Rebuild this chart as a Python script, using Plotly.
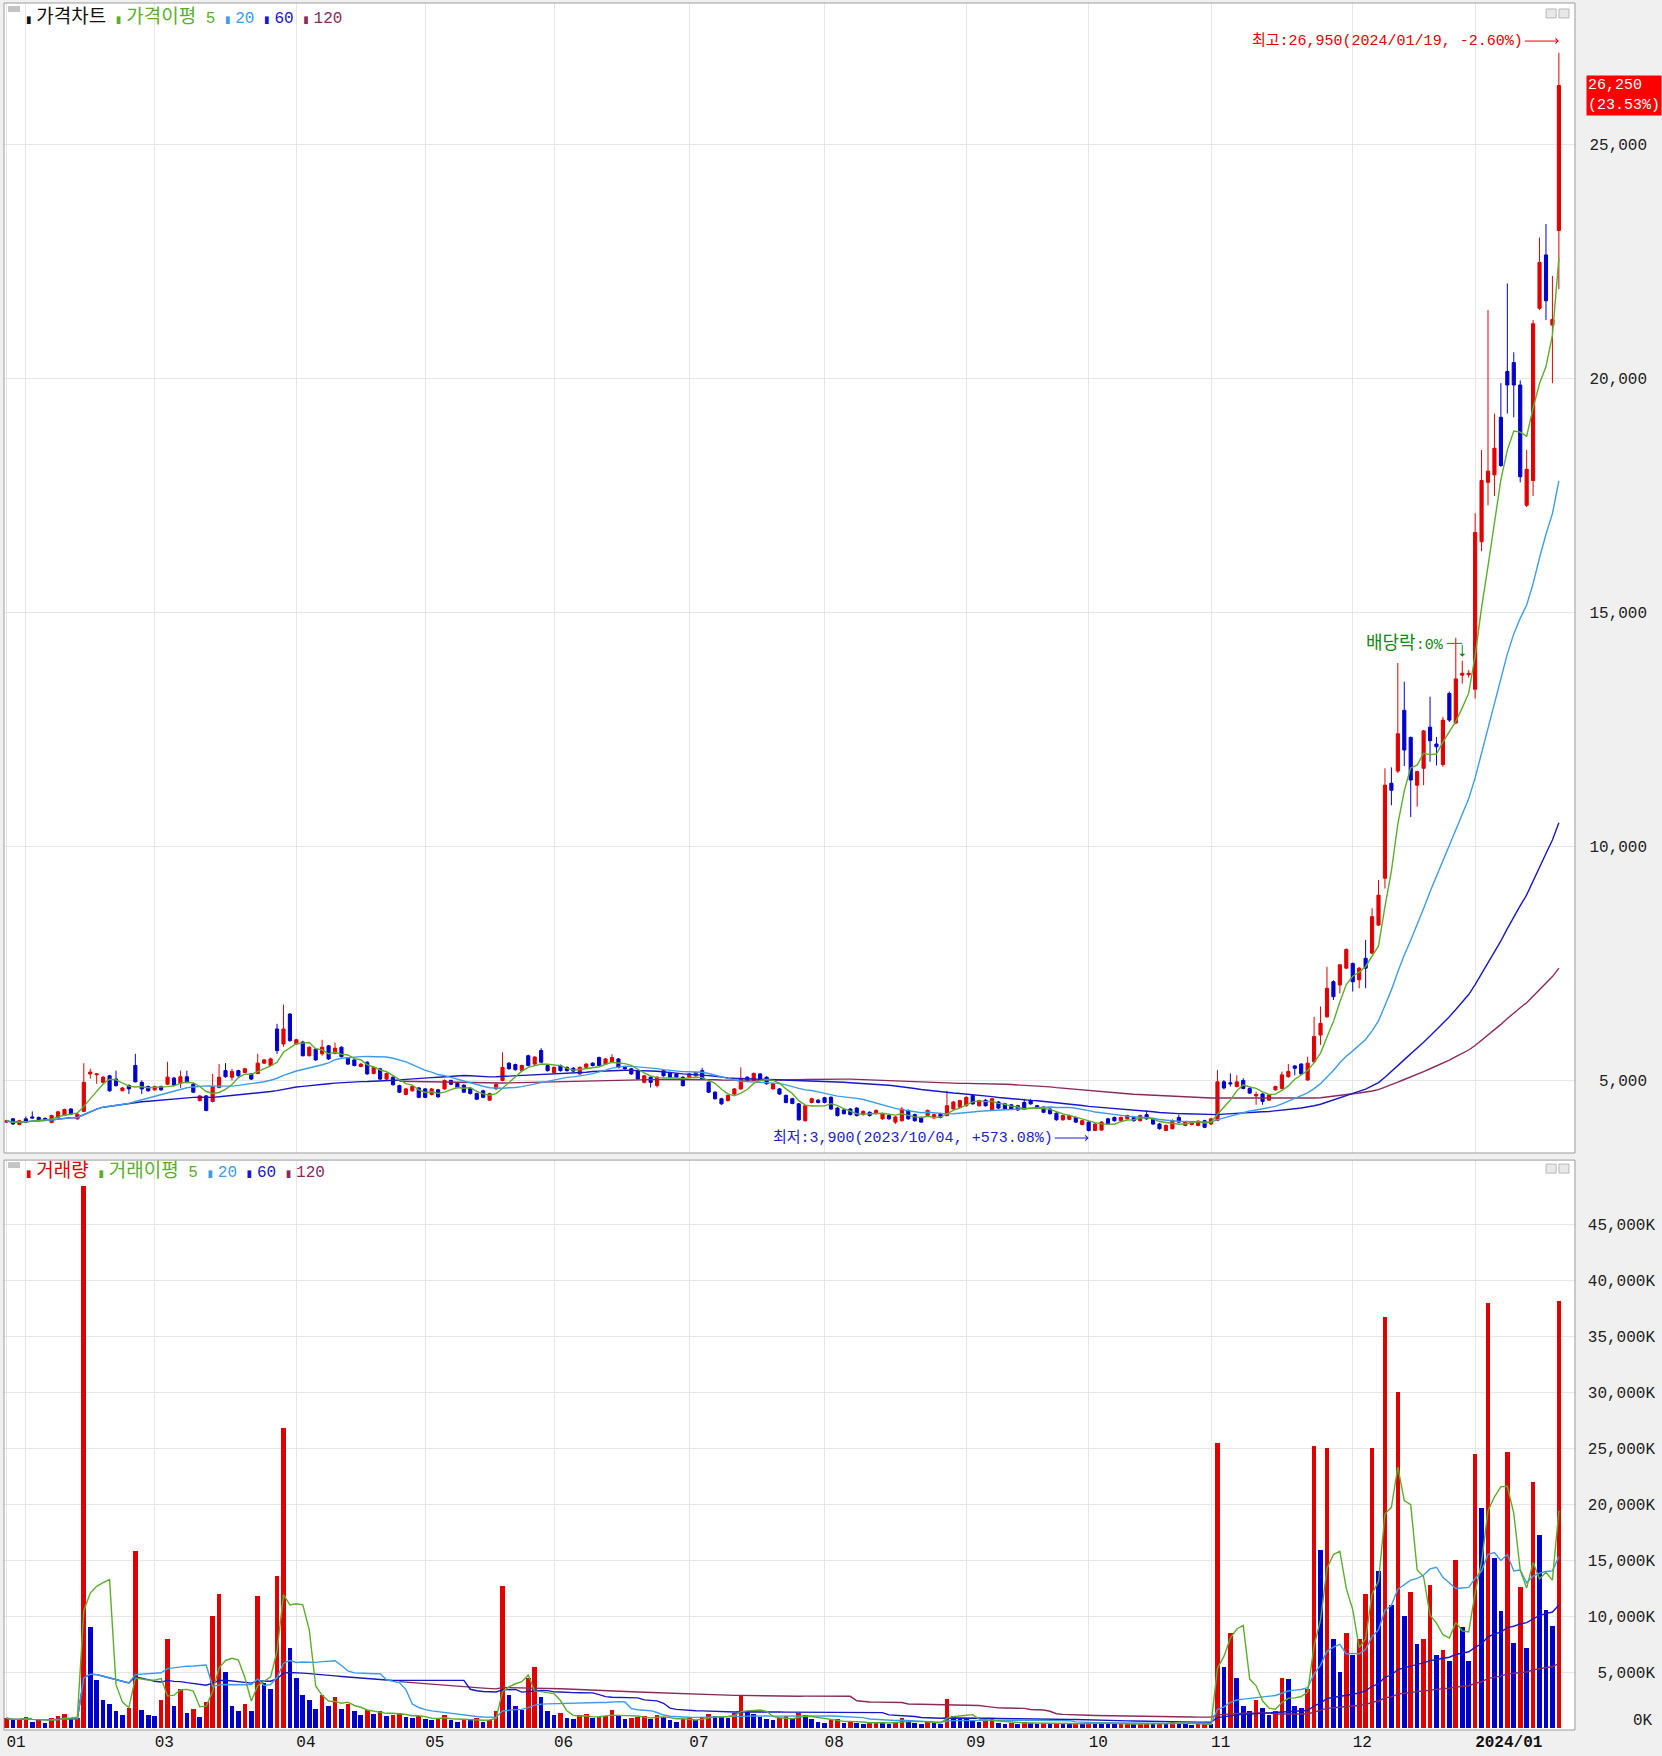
import pandas as pd
import plotly.graph_objects as go

# ---------------- data ----------------
# trading days shown per month: 2023-01 (last 3 days) ... 2024-01 (to 19th)
days_per_month = [3, 20, 22, 20, 20, 21, 21, 22, 19, 19, 22, 19, 14]
month_labels = ["01", "", "03", "04", "05", "06", "07", "08", "09", "10", "11", "12", "<b>2024/01</b>"]

opens = [
    4100, 4170, 4050, 4170, 4210, 4200, 4180, 4090, 4200, 4240,
    4380, 4170, 4330, 5130, 5110, 4950, 5090, 5020, 4770, 4880,
    5310, 4950, 4860, 4790, 4860, 4910, 5040, 4930, 5070, 4910,
    4560, 4660, 4540, 4840, 5200, 5060, 5200, 5160, 5130, 5140,
    5360, 5310, 6090, 5770, 6410, 5770, 5810, 5520, 5660, 5560,
    5730, 5570, 5700, 5470, 5430, 5290, 5380, 5140, 5240, 5020,
    5060, 4880, 4690, 4770, 4830, 4810, 4690, 4790, 4810, 4990,
    4930, 4890, 4820, 4710, 4770, 4570, 4810, 4990, 5360, 5330,
    5200, 5520, 5340, 5630, 5310, 5160, 5310, 5270, 5250, 5130,
    5270, 5360, 5480, 5340, 5380, 5450, 5270, 5240, 5200, 4950,
    5060, 4880, 5200, 5160, 5130, 5060, 5060, 5090, 5200, 4950,
    4740, 4600, 4560, 4700, 4810, 5060, 4990, 5130, 5060, 4810,
    4810, 4670, 4600, 4490, 4130, 4520, 4570, 4620, 4630, 4400,
    4360, 4380, 4400, 4260, 4310, 4280, 4170, 4240, 4100, 4130,
    4350, 4260, 4200, 4240, 4190, 4280, 4240, 4380, 4420, 4450,
    4670, 4450, 4570, 4360, 4530, 4490, 4470, 4450, 4520, 4560,
    4450, 4420, 4380, 4290, 4150, 4160, 4200, 4050, 4100, 3920,
    3930, 4170, 4200, 4130, 4170, 4200, 4130, 4260, 4170, 4060,
    3920, 3960, 4200, 4030, 4050, 4030, 4130, 4060, 4140, 4960,
    4940, 4860, 4990, 4820, 4660, 4700, 4570, 4790, 4820, 5070,
    5300, 5340, 5000, 5390, 5960, 6350, 7100, 7030, 7390, 7490,
    7140, 7600, 7710, 8310, 9310, 11340, 11600, 12900, 12320, 11300,
    11660, 12540, 12180, 11740, 13260, 12630, 13650, 13660, 13350, 16500,
    17770, 17930, 19160, 20140, 20330, 19850, 17280, 17810, 21490, 22630,
    21130, 23150,
]
highs = [
    4150, 4190, 4150, 4220, 4330, 4220, 4200, 4260, 4340, 4390,
    4400, 4290, 5360, 5240, 5140, 5090, 5110, 5200, 4850, 4910,
    5560, 4990, 4880, 4880, 4880, 5390, 5070, 5200, 5200, 4940,
    4680, 4680, 5130, 5340, 5360, 5240, 5220, 5260, 5150, 5560,
    5450, 5480, 6200, 6610, 6430, 5880, 5840, 5720, 5680, 5860,
    5750, 5800, 5720, 5490, 5450, 5360, 5400, 5290, 5260, 5160,
    5080, 4900, 4830, 4880, 4850, 4830, 4830, 4810, 5010, 5010,
    4950, 4910, 4840, 4730, 4790, 4730, 4930, 5590, 5380, 5350,
    5330, 5540, 5510, 5680, 5330, 5290, 5330, 5290, 5280, 5290,
    5360, 5380, 5500, 5470, 5550, 5470, 5290, 5260, 5220, 5110,
    5080, 5080, 5220, 5180, 5150, 5080, 5150, 5180, 5260, 4970,
    4760, 4620, 4690, 4830, 5270, 5080, 5160, 5150, 5080, 4940,
    4830, 4690, 4620, 4510, 4470, 4620, 4590, 4640, 4650, 4420,
    4380, 4400, 4420, 4350, 4330, 4370, 4300, 4260, 4230, 4420,
    4370, 4280, 4220, 4370, 4280, 4300, 4770, 4550, 4580, 4650,
    4690, 4580, 4590, 4620, 4550, 4510, 4490, 4470, 4600, 4600,
    4470, 4440, 4400, 4310, 4260, 4260, 4220, 4150, 4120, 4080,
    4120, 4190, 4220, 4220, 4260, 4220, 4260, 4350, 4190, 4080,
    4050, 4160, 4260, 4120, 4120, 4140, 4150, 4190, 5210, 5000,
    5140, 5100, 5040, 4840, 4750, 4720, 4700, 4880, 5180, 5340,
    5320, 5360, 5500, 6350, 6570, 7420, 7130, 7480, 7810, 7510,
    7410, 7990, 8670, 9270, 11660, 11680, 13910, 13510, 12340, 11610,
    12480, 13190, 12330, 12760, 13300, 14450, 13960, 13760, 17110, 18460,
    21450, 19240, 19890, 22020, 20550, 19950, 18460, 21240, 23000, 23290,
    22180, 26950,
]
lows = [
    4080, 4040, 4030, 4080, 4170, 4130, 4120, 4080, 4190, 4230,
    4250, 4150, 4310, 5030, 4920, 4920, 4750, 4860, 4760, 4700,
    4950, 4700, 4750, 4770, 4770, 4890, 4870, 4830, 4930, 4720,
    4540, 4330, 4520, 4820, 5050, 4990, 5070, 5150, 5000, 5120,
    5340, 5290, 5560, 5710, 5820, 5750, 5500, 5500, 5410, 5520,
    5430, 5550, 5480, 5320, 5290, 5270, 5110, 5120, 5000, 5000,
    4880, 4720, 4670, 4750, 4610, 4610, 4670, 4620, 4790, 4890,
    4820, 4720, 4690, 4570, 4610, 4550, 4790, 4970, 5220, 5200,
    5180, 5290, 5320, 5360, 5180, 5140, 5180, 5180, 5170, 5110,
    5250, 5290, 5290, 5320, 5360, 5250, 5220, 5110, 5000, 4930,
    4840, 4840, 5070, 5040, 5040, 4860, 5040, 5070, 5000, 4720,
    4580, 4470, 4540, 4680, 4790, 4970, 4970, 4970, 4900, 4790,
    4680, 4500, 4480, 4130, 4110, 4500, 4500, 4500, 4360, 4220,
    4260, 4240, 4220, 4240, 4220, 4260, 4150, 4150, 4060, 4110,
    4150, 4110, 4080, 4220, 4170, 4180, 4220, 4360, 4400, 4430,
    4470, 4430, 4430, 4340, 4380, 4360, 4360, 4340, 4360, 4470,
    4380, 4290, 4260, 4130, 4130, 4140, 4080, 4030, 3900, 3910,
    3920, 4040, 4110, 4110, 4150, 4110, 4110, 4150, 4040, 3940,
    3910, 3940, 4080, 4010, 4030, 4010, 3970, 4040, 4120, 4800,
    4860, 4840, 4800, 4700, 4470, 4470, 4550, 4770, 4800, 5050,
    5100, 5110, 4980, 5370, 5750, 6330, 6710, 6850, 7370, 6890,
    6960, 6960, 7690, 8290, 9090, 10870, 11560, 11710, 10620, 10840,
    11300, 11800, 11720, 11690, 12650, 12600, 13470, 13600, 13150, 16300,
    17280, 17480, 18100, 19240, 19160, 17770, 17240, 17480, 21450, 21240,
    19890, 21900,
]
closes = [
    4130, 4060, 4130, 4100, 4190, 4150, 4160, 4240, 4320, 4370,
    4270, 4270, 4950, 5170, 5130, 5060, 4770, 4880, 4830, 4810,
    4960, 4810, 4770, 4860, 4790, 5060, 4890, 5070, 4950, 4740,
    4660, 4350, 4860, 5060, 5070, 5180, 5090, 5240, 5020, 5360,
    5430, 5450, 5630, 6090, 5840, 5860, 5520, 5700, 5430, 5700,
    5450, 5680, 5500, 5340, 5310, 5340, 5130, 5270, 5020, 5140,
    4900, 4740, 4810, 4860, 4630, 4630, 4810, 4640, 4990, 4910,
    4840, 4740, 4710, 4590, 4630, 4710, 4910, 5270, 5240, 5220,
    5310, 5310, 5490, 5380, 5200, 5270, 5200, 5200, 5190, 5270,
    5340, 5310, 5310, 5450, 5480, 5270, 5240, 5130, 5020, 5090,
    4950, 5060, 5090, 5060, 5060, 4880, 5130, 5160, 5020, 4740,
    4600, 4490, 4670, 4810, 5020, 4990, 5140, 4990, 4920, 4920,
    4700, 4520, 4500, 4150, 4450, 4600, 4520, 4520, 4380, 4240,
    4280, 4260, 4240, 4330, 4240, 4350, 4280, 4170, 4210, 4380,
    4170, 4130, 4100, 4350, 4260, 4200, 4450, 4530, 4560, 4630,
    4490, 4560, 4450, 4600, 4400, 4380, 4380, 4360, 4380, 4490,
    4400, 4310, 4280, 4150, 4240, 4240, 4100, 4130, 3920, 4060,
    4100, 4060, 4130, 4200, 4240, 4130, 4240, 4170, 4060, 3960,
    4030, 4130, 4100, 4100, 4100, 4120, 3990, 4170, 4960, 4830,
    4920, 4960, 4820, 4720, 4690, 4540, 4680, 4860, 5110, 5180,
    5250, 5130, 5360, 5930, 6210, 6960, 6780, 7460, 7790, 7100,
    7390, 7390, 8490, 8950, 11300, 11190, 12400, 12050, 11410, 11590,
    12460, 12250, 12120, 12690, 12690, 13570, 13690, 13690, 16700, 17810,
    18010, 18500, 18130, 19850, 19850, 17890, 18050, 21160, 22470, 21650,
    21250, 26250,
]
volumes_k = [
    900, 700, 800, 1000, 600, 700, 500, 900, 1100, 1300, 800, 900,
    48400, 9000, 4300, 2500, 2200, 1500, 1200, 1800, 15800, 1600, 1200,
    1100, 2500, 8000, 2000, 3500, 1400, 1700, 1000, 2300, 10000, 12000,
    5000, 2000, 1500, 2200, 1500, 11800, 4000, 3500, 13600, 26800, 7200,
    4500, 3000, 2500, 1700, 3000, 2000, 2800, 1700, 2200, 1500, 1200,
    1600, 1300, 1500, 1100, 1200, 1400, 1000, 900, 1100, 800, 700,
    900, 1200, 700, 600, 800, 700, 900, 600, 700, 1500, 12700,
    3000, 2000, 1600, 4500, 5500, 2800, 1500, 1200, 1400, 900, 800,
    1200, 1300, 900, 1000, 1100, 1600, 1200, 800, 900, 1000, 1100,
    800, 1200, 1000, 700, 600, 800, 900, 700, 1000, 1300, 1100,
    1000, 900, 1400, 3000, 1500, 1300, 1000, 800, 700, 900, 1100,
    800, 1400, 1200, 800, 600, 500, 700, 800, 500, 600, 500,
    400, 500, 600, 500, 400, 600, 900, 600, 500, 400, 600,
    500, 400, 2600, 1100, 900, 800, 700, 600, 700, 800, 500,
    400, 500, 400, 600, 500, 400, 500, 400, 500, 400, 350,
    400, 350, 600, 500, 450, 400, 350, 400, 450, 350, 400,
    500, 400, 450, 400, 600, 500, 350, 300, 350, 400, 350,
    25500, 5500, 8500, 4500, 2000, 1500, 2500, 1800, 1200, 1500, 4500,
    4400, 2000, 1800, 3500, 25200, 15900, 25000, 8000, 5000, 8500,
    6500, 8000, 12000, 25000, 14000, 36700, 11000, 30000, 10000, 12200, 7500, 8000, 12800,
    6500, 7000, 6000, 15000, 9000, 6000, 24500, 19700, 38000, 15200,
    10500, 24700, 7600, 12600, 7200, 22000, 17300, 10600, 9100, 38200,
]
price_ticks = [5000, 10000, 15000, 20000, 25000]
volume_ticks = [5000, 10000, 15000, 20000, 25000, 30000, 35000, 40000, 45000]

high_note = "최고:26,950(2024/01/19, -2.60%)"
low_note = "최저:3,900(2023/10/04, +573.08%)"
exdiv_note = '<span style="font-size:18px">배당락</span>:0%'
last_tag = "26,250<br>(23.53%)"

n = len(closes)
assert len(opens) == n and len(highs) == n and len(lows) == n and len(volumes_k) == n

x = list(range(n))
month_start = [0]
for c in days_per_month[:-1]:
    month_start.append(month_start[-1] + c)

cs = pd.Series(closes, dtype=float)
vs = pd.Series(volumes_k, dtype=float)


def ma(s, w, minp=1):
    return s.rolling(w, min_periods=minp).mean()


# ---------------- style ----------------
RED = "#E00000"
BLUE = "#0000CC"
C5 = "#5BAE2C"
C20 = "#3C9CEB"
C60 = "#1818C8"
C120 = "#8A2A5C"
GRID = "#E6E6E6"
BORDER = "#9C9C9C"
MONO = "Liberation Mono, Noto Sans CJK KR, DejaVu Sans, monospace"
TICKF = dict(family=MONO, size=16, color="#222222")

fig = go.Figure()

fig.add_trace(go.Candlestick(
    x=x, open=opens, high=highs, low=lows, close=closes,
    increasing=dict(line=dict(color=RED, width=1), fillcolor=RED),
    decreasing=dict(line=dict(color=BLUE, width=1), fillcolor=BLUE),
    whiskerwidth=0, xaxis="x", yaxis="y", hoverinfo="skip", showlegend=False,
))
for w, col, minp in [(120, C120, 62), (60, C60, 1), (20, C20, 1), (5, C5, 1)]:
    fig.add_trace(go.Scatter(x=x, y=ma(cs, w, minp), mode="lines",
                             line=dict(color=col, width=1.4), xaxis="x", yaxis="y",
                             hoverinfo="skip", showlegend=False))

vol_colors = [RED] + [RED if volumes_k[i] > volumes_k[i - 1] else BLUE for i in range(1, n)]
fig.add_trace(go.Bar(x=x, y=volumes_k, marker=dict(color=vol_colors, line=dict(width=0)),
                     width=0.72, xaxis="x2", yaxis="y2", hoverinfo="skip", showlegend=False))
for w, col, minp in [(120, C120, 62), (60, C60, 1), (20, C20, 1), (5, C5, 1)]:
    fig.add_trace(go.Scatter(x=x, y=ma(vs, w, minp), mode="lines",
                             line=dict(color=col, width=1.4), xaxis="x2", yaxis="y2",
                             hoverinfo="skip", showlegend=False))

XR = [-0.39, 243.5]
XDOM = [0, 0.9498]
common_x = dict(range=XR, domain=XDOM, tickmode="array", tickvals=month_start,
                showgrid=True, gridcolor=GRID, gridwidth=1, zeroline=False,
                showline=False, ticks="", fixedrange=True)

fig.update_layout(
    width=1662, height=1756,
    margin=dict(l=4, r=4, t=3, b=26),
    paper_bgcolor="#F0F0F0", plot_bgcolor="#FFFFFF",
    showlegend=False, bargap=0,
    xaxis=dict(**common_x, anchor="y", showticklabels=False, rangeslider=dict(visible=False)),
    xaxis2=dict(**common_x, anchor="y2", ticktext=month_labels, showticklabels=True,
                ticklabelposition="outside right", tickfont=dict(family=MONO, size=16, color="#111111")),
    yaxis=dict(domain=[0.3341, 1.0], range=[3440, 28013], side="right", anchor="free",
               position=0.9952, tickmode="array", tickvals=price_ticks,
               ticktext=[f"{v:,}" for v in price_ticks], ticklabelposition="inside",
               ticklabeloverflow="allow", ticks="", showgrid=True, gridcolor=GRID,
               zeroline=False, showline=False, tickfont=TICKF, fixedrange=True),
    yaxis2=dict(domain=[0.0, 0.3300], range=[-150, 50750], side="right", anchor="free",
                position=1.0, tickmode="array", tickvals=volume_ticks,
                ticktext=[f"{v:,}K" for v in volume_ticks], ticklabelposition="inside",
                ticklabeloverflow="allow", ticks="", showgrid=True, gridcolor=GRID,
                zeroline=False, showline=False, tickfont=TICKF, fixedrange=True),
)

shapes = []
for xr, yr in [("x domain", "y domain"), ("x2 domain", "y2 domain")]:
    shapes.append(dict(type="rect", xref=xr, yref=yr, x0=0, x1=1, y0=0, y1=1,
                       line=dict(color=BORDER, width=1), fillcolor="rgba(0,0,0,0)", layer="above"))
# small panel icons
for xr, yr, ya, yb, yc, yd in [("x domain", "y domain", 0.9974, 0.9922, 0.9948, 0.9870),
                                ("x2 domain", "y2 domain", 0.9965, 0.9860, 0.9930, 0.9772)]:
    shapes.append(dict(type="rect", xref=xr, yref=yr, x0=0.0025, x1=0.0102, y0=yb, y1=ya,
                       line=dict(width=0), fillcolor="#C4C4C4"))
    for x0 in (0.9816, 0.9898):
        shapes.append(dict(type="rect", xref=xr, yref=yr, x0=x0, x1=x0 + 0.0064, y0=yd, y1=yc,
                           line=dict(color="#B8B8B8", width=1), fillcolor="#E8E8E8"))
# ex-dividend bent arrow (horizontal part)
shapes.append(dict(type="line", xref="x", yref="y", x0=223.6, x1=226, y0=14330, y1=14330,
                   line=dict(color="#118811", width=1)))
fig.update_layout(shapes=shapes)

GAP = '<span style="font-size:8px"> </span>'


def legend(parts):
    out = []
    for txt, col, big in parts:
        body = f'<span style="font-size:19px">{txt}</span>' if big else txt
        out.append(f'<span style="color:{col}"><span style="font-size:10px">▮</span>{GAP}{body}</span>')
    return " ".join(out)


annotations = [
    dict(xref="x domain", yref="y domain", x=0.0127, y=0.9878, xanchor="left", yanchor="middle",
         showarrow=False, font=dict(family=MONO, size=16),
         text=legend([("가격차트", "#111111", True), ("가격이평", C5, True)]) + f'<span style="color:{C5}"> 5</span> '
         + legend([("20", C20, False), ("60", C60, False), ("120", C120, False)])),
    dict(xref="x2 domain", yref="y2 domain", x=0.0127, y=0.9807, xanchor="left", yanchor="middle",
         showarrow=False, font=dict(family=MONO, size=16),
         text=legend([("거래량", RED, True), ("거래이평", C5, True)]) + f'<span style="color:{C5}"> 5</span> '
         + legend([("20", C20, False), ("60", C60, False), ("120", C120, False)])),
    dict(xref="x", yref="y", x=241, y=27200, ax=-34, ay=0, xanchor="right", yanchor="middle",
         text=high_note, showarrow=True, arrowhead=4, arrowsize=1, arrowwidth=1, arrowcolor="#E60000",
         font=dict(family=MONO, size=15, color="#E60000")),
    dict(xref="x", yref="y", x=168, y=3760, ax=-34, ay=0, xanchor="right", yanchor="middle",
         text=low_note, showarrow=True, arrowhead=4, arrowsize=1, arrowwidth=1, arrowcolor="#1E1ECC",
         font=dict(family=MONO, size=15, color="#1E1ECC")),
    dict(xref="x", yref="y", x=223.4, y=14330, xanchor="right", yanchor="middle", showarrow=False,
         text=exdiv_note, font=dict(family=MONO, size=15, color="#118811")),
    dict(xref="x", yref="y", axref="x", ayref="y", x=226, y=14045, ax=226, ay=14330, text="",
         showarrow=True, arrowhead=1, arrowsize=1, arrowwidth=1, arrowcolor="#118811"),
    dict(xref="paper", yref="y", x=1.0, y=26250, xanchor="right", yanchor="top", yshift=11, xshift=4,
         text=last_tag, showarrow=False, bgcolor="#FF0000", borderpad=1, align="left",
         font=dict(family=MONO, size=15, color="#FFFFFF")),
    dict(xref="paper", yref="y2", x=1.0, y=0, xanchor="right", yanchor="middle", yshift=7, xshift=-3,
         text="0K", showarrow=False, font=TICKF),
]
fig.update_layout(annotations=annotations)

fig.write_html("out.html", config={"displayModeBar": False},
               post_script="document.body.style.margin='0';document.body.style.overflow='hidden';")
